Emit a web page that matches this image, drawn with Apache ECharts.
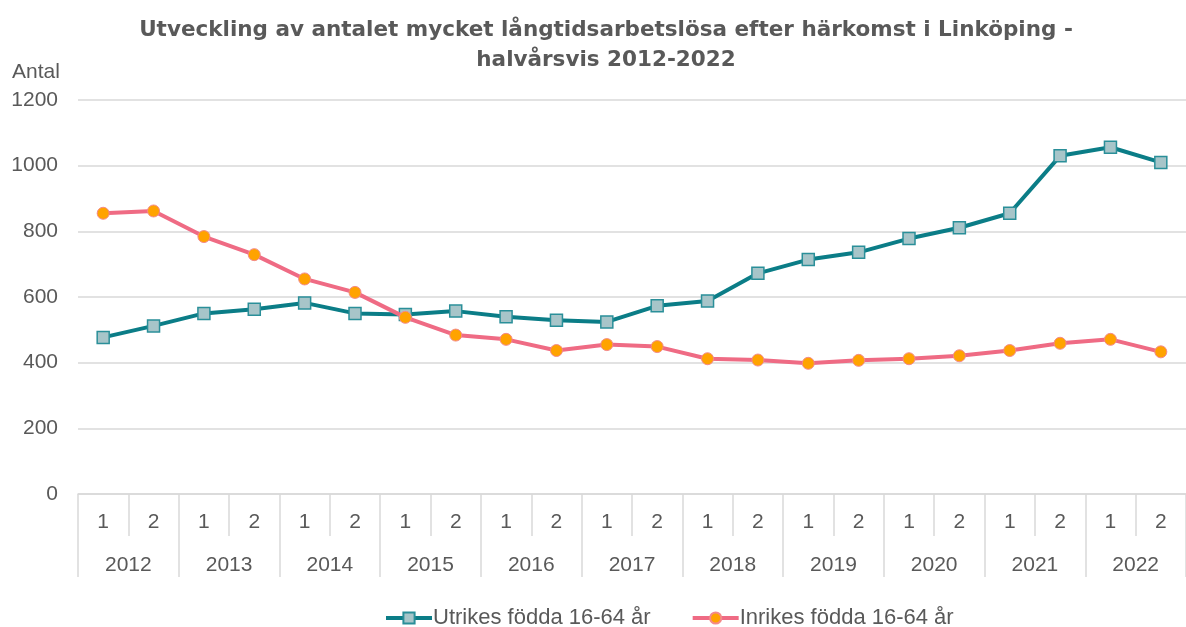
<!DOCTYPE html>
<html>
<head>
<meta charset="utf-8">
<script src="https://cdn.jsdelivr.net/npm/echarts@6/dist/echarts.min.js"></script>
<style>
html,body{margin:0;padding:0;background:#fff;}
#chart{width:1186px;height:627px;}
</style>
</head>
<body>
<div id="chart"></div>
<script>
const halfYears = ['1','2','1','2','1','2','1','2','1','2','1','2','1','2','1','2','1','2','1','2','1','2'];
const years = ['2012','2013','2014','2015','2016','2017','2018','2019','2020','2021','2022'];
const utrikes = [477,512,550,563,582,550,547,557,540,529,524,573,588,672,714,736,778,811,855,1030,1056,1010];
const inrikes = [855,862,784,729,655,614,538,484,471,437,455,449,412,408,398,407,412,421,437,459,471,433];

const textColor = '#595959';
const gridLineColor = '#d9d9d9';
const font = 'Liberation Sans, Arial, sans-serif';

const chart = echarts.init(document.getElementById('chart'));
chart.setOption({
  animation: false,
  backgroundColor: '#ffffff',
  title: {
    text: 'Utveckling av antalet mycket långtidsarbetslösa efter härkomst i Linköping -\nhalvårsvis 2012-2022',
    left: 606,
    textAlign: 'center',
    top: 15,
    padding: 0,
    textStyle: {
      fontFamily: 'DejaVu Sans',
      fontSize: 21.5,
      fontWeight: 'bold',
      color: textColor,
      lineHeight: 30
    }
  },
  graphic: [{
    type: 'text',
    left: 12,
    top: 62,
    style: { text: 'Antal', fontFamily: font, fontSize: 21, fill: textColor }
  }],
  legend: {
    top: 607,
    left: 384,
    padding: 0,
    itemWidth: 46,
    itemHeight: 14,
    itemGap: 40,
    lineStyle: { width: 4 },
    textStyle: { fontFamily: font, fontSize: 22, color: textColor, padding: [0,0,0,-4] },
    data: ['Utrikes födda 16-64 år', 'Inrikes födda 16-64 år']
  },
  grid: { left: 78, width: 1112, top: 100, bottom: 133, containLabel: false },
  xAxis: [{
    type: 'category',
    data: halfYears,
    boundaryGap: true,
    position: 'bottom',
    axisLine: { show: true, lineStyle: { color: gridLineColor, width: 1.5 } },
    axisTick: { show: true, interval: 0, length: 42, lineStyle: { color: gridLineColor, width: 1.5 } },
    axisLabel: { interval: 0, margin: 18, fontFamily: font, fontSize: 21, color: textColor }
  }, {
    type: 'category',
    data: years,
    boundaryGap: true,
    position: 'bottom',
    axisLine: { show: false },
    axisTick: { show: true, interval: 0, length: 83, lineStyle: { color: gridLineColor, width: 1.5 } },
    axisLabel: { interval: 0, margin: 61, fontFamily: font, fontSize: 21, color: textColor }
  }],
  yAxis: {
    type: 'value',
    min: 0,
    max: 1200,
    interval: 200,
    axisLine: { show: false },
    axisTick: { show: false },
    splitLine: { show: true, lineStyle: { color: gridLineColor, width: 1.5 } },
    axisLabel: { margin: 20, fontFamily: font, fontSize: 21, color: textColor, formatter: v => String(v) }
  },
  series: [{
    name: 'Utrikes födda 16-64 år',
    type: 'line',
    xAxisIndex: 0,
    data: utrikes,
    symbol: 'rect',
    symbolSize: 12,
    lineStyle: { color: '#0b7d87', width: 4 },
    itemStyle: { color: '#a7c5c9', borderColor: '#2a8f99', borderWidth: 1.5 },
    z: 2
  }, {
    name: 'Inrikes födda 16-64 år',
    type: 'line',
    xAxisIndex: 0,
    data: inrikes,
    symbol: 'circle',
    symbolSize: 12,
    lineStyle: { color: '#ef6b84', width: 4 },
    itemStyle: { color: '#ffa300', borderColor: '#f48a8a', borderWidth: 1 },
    z: 3
  }]
});
</script>
</body>
</html>
